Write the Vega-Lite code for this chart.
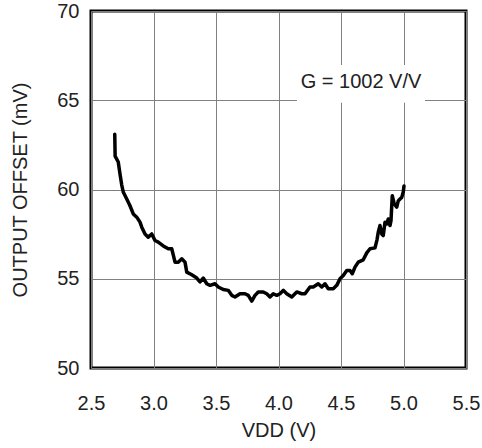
{
  "$schema": "https://vega.github.io/schema/vega-lite/v6.json",
  "width": 375,
  "height": 357,
  "autosize": "none",
  "padding": {"left": 91, "top": 11, "right": 16, "bottom": 80},
  "background": "white",
  "config": {
    "view": {"stroke": "black", "strokeWidth": 3},
    "font": "Liberation Sans"
  },
  "datasets": {
    "curve": [
      {"vdd": 2.690, "offset": 63.10},
      {"vdd": 2.693, "offset": 61.87},
      {"vdd": 2.718, "offset": 61.54},
      {"vdd": 2.732, "offset": 60.87},
      {"vdd": 2.746, "offset": 60.25},
      {"vdd": 2.758, "offset": 59.86},
      {"vdd": 2.786, "offset": 59.47},
      {"vdd": 2.812, "offset": 59.09},
      {"vdd": 2.838, "offset": 58.63},
      {"vdd": 2.866, "offset": 58.45},
      {"vdd": 2.892, "offset": 58.17},
      {"vdd": 2.906, "offset": 57.89},
      {"vdd": 2.932, "offset": 57.51},
      {"vdd": 2.958, "offset": 57.33},
      {"vdd": 2.986, "offset": 57.51},
      {"vdd": 3.012, "offset": 57.14},
      {"vdd": 3.038, "offset": 57.05},
      {"vdd": 3.078, "offset": 56.84},
      {"vdd": 3.118, "offset": 56.68},
      {"vdd": 3.146, "offset": 56.68},
      {"vdd": 3.160, "offset": 56.28},
      {"vdd": 3.172, "offset": 55.93},
      {"vdd": 3.198, "offset": 55.93},
      {"vdd": 3.226, "offset": 56.12},
      {"vdd": 3.252, "offset": 55.93},
      {"vdd": 3.266, "offset": 55.37},
      {"vdd": 3.306, "offset": 55.22},
      {"vdd": 3.346, "offset": 55.04},
      {"vdd": 3.372, "offset": 54.82},
      {"vdd": 3.398, "offset": 55.04},
      {"vdd": 3.426, "offset": 54.72},
      {"vdd": 3.452, "offset": 54.63},
      {"vdd": 3.492, "offset": 54.72},
      {"vdd": 3.518, "offset": 54.54},
      {"vdd": 3.558, "offset": 54.40},
      {"vdd": 3.598, "offset": 54.35},
      {"vdd": 3.626, "offset": 54.07},
      {"vdd": 3.652, "offset": 53.98},
      {"vdd": 3.692, "offset": 54.16},
      {"vdd": 3.732, "offset": 54.16},
      {"vdd": 3.758, "offset": 54.07},
      {"vdd": 3.786, "offset": 53.75},
      {"vdd": 3.812, "offset": 54.07},
      {"vdd": 3.838, "offset": 54.26},
      {"vdd": 3.878, "offset": 54.26},
      {"vdd": 3.906, "offset": 54.16},
      {"vdd": 3.932, "offset": 53.98},
      {"vdd": 3.958, "offset": 54.16},
      {"vdd": 3.986, "offset": 54.07},
      {"vdd": 4.012, "offset": 54.16},
      {"vdd": 4.038, "offset": 54.35},
      {"vdd": 4.066, "offset": 54.16},
      {"vdd": 4.106, "offset": 53.98},
      {"vdd": 4.146, "offset": 54.26},
      {"vdd": 4.186, "offset": 54.16},
      {"vdd": 4.212, "offset": 54.16},
      {"vdd": 4.252, "offset": 54.54},
      {"vdd": 4.278, "offset": 54.54},
      {"vdd": 4.318, "offset": 54.72},
      {"vdd": 4.346, "offset": 54.54},
      {"vdd": 4.372, "offset": 54.72},
      {"vdd": 4.398, "offset": 54.44},
      {"vdd": 4.438, "offset": 54.44},
      {"vdd": 4.466, "offset": 54.63},
      {"vdd": 4.492, "offset": 55.00},
      {"vdd": 4.518, "offset": 55.18},
      {"vdd": 4.546, "offset": 55.46},
      {"vdd": 4.572, "offset": 55.46},
      {"vdd": 4.590, "offset": 55.28},
      {"vdd": 4.612, "offset": 55.65},
      {"vdd": 4.638, "offset": 55.93},
      {"vdd": 4.678, "offset": 56.06},
      {"vdd": 4.706, "offset": 56.45},
      {"vdd": 4.732, "offset": 56.68},
      {"vdd": 4.772, "offset": 56.73},
      {"vdd": 4.788, "offset": 57.18},
      {"vdd": 4.798, "offset": 57.61},
      {"vdd": 4.812, "offset": 57.98},
      {"vdd": 4.826, "offset": 57.51},
      {"vdd": 4.838, "offset": 57.42},
      {"vdd": 4.852, "offset": 58.17},
      {"vdd": 4.866, "offset": 58.07},
      {"vdd": 4.878, "offset": 58.35},
      {"vdd": 4.892, "offset": 57.98},
      {"vdd": 4.900, "offset": 58.26},
      {"vdd": 4.910, "offset": 59.65},
      {"vdd": 4.926, "offset": 59.19},
      {"vdd": 4.946, "offset": 59.01},
      {"vdd": 4.958, "offset": 59.36},
      {"vdd": 4.972, "offset": 59.47},
      {"vdd": 4.986, "offset": 59.56},
      {"vdd": 4.998, "offset": 59.86},
      {"vdd": 5.004, "offset": 60.20}
    ],
    "note": [
      {"x1": 4.148, "x2": 5.172, "y1": 66.98, "y2": 64.86, "xc": 4.66, "yc": 66.03, "label": "G = 1002 V/V"}
    ]
  },
  "layer": [
    {
      "data": {"name": "note"},
      "mark": {"type": "rect", "fill": "white", "stroke": null},
      "encoding": {
        "x": {"field": "x1", "type": "quantitative", "scale": {"domain": [2.5, 5.5], "nice": false, "zero": false},
              "axis": {"values": [2.5, 3.0, 3.5, 4.0, 4.5, 5.0, 5.5], "format": ".1f", "title": "VDD (V)",
                       "grid": true, "gridColor": "#808080", "gridWidth": 1, "domain": false, "ticks": false,
                       "labelFontSize": 20, "labelColor": "#222222", "labelPadding": 25,
                       "labelFlush": false, "labelOverlap": false,
                       "titleFontSize": 20, "titleFontWeight": "normal", "titleColor": "#222222",
                       "titleY": 62, "titleBaseline": "middle"}},
        "x2": {"field": "x2"},
        "y": {"field": "y1", "type": "quantitative", "scale": {"domain": [50, 70], "nice": false, "zero": false},
              "axis": {"values": [50, 55, 60, 65, 70], "title": "OUTPUT OFFSET (mV)",
                       "grid": true, "gridColor": "#808080", "gridWidth": 1, "domain": false, "ticks": false,
                       "labelFontSize": 20, "labelColor": "#222222", "labelPadding": 12,
                       "labelFlush": false, "labelOverlap": false,
                       "titleFontSize": 20, "titleFontWeight": "normal", "titleColor": "#222222",
                       "titleX": -71, "titleBaseline": "middle"}},
        "y2": {"field": "y2"}
      }
    },
    {
      "data": {"name": "note"},
      "mark": {"type": "text", "fontSize": 20, "color": "#222222", "align": "center", "baseline": "middle"},
      "encoding": {
        "x": {"field": "xc", "type": "quantitative"},
        "y": {"field": "yc", "type": "quantitative"},
        "text": {"field": "label"}
      }
    },
    {
      "data": {"name": "curve"},
      "mark": {"type": "line", "color": "black", "strokeWidth": 3.5, "strokeJoin": "round", "strokeCap": "round"},
      "encoding": {
        "x": {"field": "vdd", "type": "quantitative"},
        "y": {"field": "offset", "type": "quantitative"}
      }
    }
  ]
}
